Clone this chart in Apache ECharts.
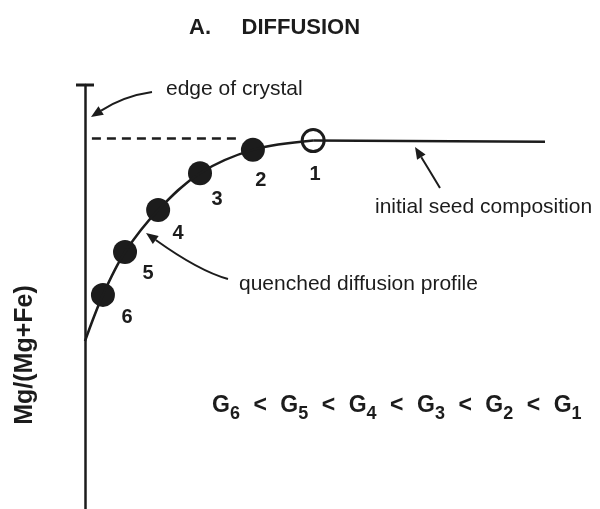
<!DOCTYPE html>
<html>
<head>
<meta charset="utf-8">
<script src="https://cdn.jsdelivr.net/npm/echarts@6/dist/echarts.min.js"></script>
<style>
  html, body { margin: 0; padding: 0; background: #fff; }
  #chart { width: 600px; height: 509px; }
</style>
</head>
<body>
<div id="chart"></div>
<script>
// distance from crystal edge (arbitrary units) and Mg/(Mg+Fe) (relative)
const profileX = [0, 0.39, 0.87, 1.59, 2.50, 3.65, 4.96];
const profileY = [0.396, 0.505, 0.606, 0.705, 0.792, 0.847, 0.869];
const seedX = [4.96, 10];
const seedY = [0.869, 0.866];
const edgeX = [0.15, 3.3];
const edgeY = [0.874, 0.874];
// quenched points 2..6 and the unquenched point 1
const pointIds = ['6', '5', '4', '3', '2'];
const pointX = [0.39, 0.87, 1.59, 2.50, 3.65];
const pointY = [0.505, 0.606, 0.705, 0.792, 0.847];
const openX = [4.96];
const openY = [0.869];
const openIds = ['1'];
const growthOrder = ['6', '5', '4', '3', '2', '1'];

const ink = '#1c1c1c';
const labelOffsets = {'1': [2, 34], '2': [8, 31], '3': [17, 26], '4': [20, 23], '5': [23, 21], '6': [24, 23]};

const zip = (xs, ys) => xs.map((x, i) => [x, ys[i]]);

function arrow(x1, y1, cx, cy, x2, y2) {
    const a = Math.atan2(y2 - cy, x2 - cx);
    const L = 12, W = 5;
    const bx = x2 - L * Math.cos(a), by = y2 - L * Math.sin(a);
    return [
        {
            type: 'bezierCurve',
            shape: {x1: x1, y1: y1, cpx1: cx, cpy1: cy, x2: bx, y2: by},
            style: {stroke: ink, lineWidth: 2, fill: null}
        },
        {
            type: 'polygon',
            shape: {points: [[x2, y2], [bx + W * Math.sin(a), by - W * Math.cos(a)], [bx - W * Math.sin(a), by + W * Math.cos(a)]]},
            style: {fill: ink}
        }
    ];
}

function numLabel(id) {
    return {
        show: true,
        position: 'inside',
        offset: labelOffsets[id],
        formatter: () => id,
        color: ink,
        fontFamily: 'Liberation Sans',
        fontWeight: 'bold',
        fontSize: 20
    };
}

const textStyle = {fill: ink, fontFamily: 'Liberation Sans', fontSize: 21};
const inequality = growthOrder.map(g => 'G{s|' + g + '}').join('{op|<}');

const chart = echarts.init(document.getElementById('chart'));
const option = {
    animation: false,
    backgroundColor: '#fff',
    title: {
        text: 'A.     DIFFUSION',
        left: 184,
        top: 12,
        textStyle: {color: ink, fontFamily: 'Liberation Sans', fontWeight: 'bold', fontSize: 22}
    },
    grid: {left: 85, right: 55, top: 85, bottom: 0, containLabel: false},
    xAxis: {type: 'value', min: 0, max: 10, show: false},
    yAxis: {
        type: 'value',
        min: 0,
        max: 1,
        axisLine: {
            show: true,
            lineStyle: {color: ink, width: 2.5},
            symbol: ['none', 'rect'],
            symbolSize: [18, 3]
        },
        axisTick: {show: false},
        axisLabel: {show: false},
        splitLine: {show: false}
    },
    series: [
        {
            type: 'line',
            data: zip(edgeX, edgeY),
            symbol: 'none',
            lineStyle: {color: ink, width: 2.5, type: [9, 6]}
        },
        {
            type: 'line',
            data: zip(seedX, seedY),
            symbol: 'none',
            lineStyle: {color: ink, width: 2.5}
        },
        {
            type: 'line',
            data: zip(profileX, profileY),
            smooth: 0.35,
            symbol: 'none',
            lineStyle: {color: ink, width: 2.5}
        },
        {
            type: 'scatter',
            data: zip(pointX, pointY).map((p, i) => ({value: p, label: numLabel(pointIds[i])})),
            symbolSize: 24,
            itemStyle: {color: ink, opacity: 1}
        },
        {
            type: 'scatter',
            data: zip(openX, openY).map((p, i) => ({value: p, label: numLabel(openIds[i])})),
            symbolSize: 22,
            itemStyle: {color: '#fff', borderColor: ink, borderWidth: 3, opacity: 1}
        }
    ],
    graphic: [
        {
            type: 'text',
            x: 25, y: 355,
            rotation: Math.PI / 2,
            style: {text: 'Mg/(Mg+Fe)', fill: ink, fontFamily: 'Liberation Sans', fontWeight: 'bold', fontSize: 25, align: 'center', verticalAlign: 'middle'}
        },
        {type: 'text', x: 166, y: 89, style: Object.assign({text: 'edge of crystal', verticalAlign: 'middle'}, textStyle)},
        {type: 'text', x: 239, y: 284, style: Object.assign({text: 'quenched diffusion profile', verticalAlign: 'middle'}, textStyle)},
        {type: 'text', x: 375, y: 207, style: Object.assign({text: 'initial seed composition', verticalAlign: 'middle'}, textStyle)},
        {
            type: 'text',
            x: 212, y: 406,
            style: {
                text: inequality,
                fill: ink,
                fontFamily: 'Liberation Sans',
                fontWeight: 'bold',
                fontSize: 23,
                verticalAlign: 'middle',
                rich: {
                    s: {fontFamily: 'Liberation Sans', fontWeight: 'bold', fontSize: 18, fill: ink, verticalAlign: 'bottom', padding: [16, 0, 0, 0]},
                    op: {fontFamily: 'Liberation Sans', fontWeight: 'bold', fontSize: 23, fill: ink, padding: [0, 13.5, 0, 13.5]}
                }
            }
        }
    ].concat(
        arrow(152, 92, 124, 96, 91, 117),
        arrow(228, 279, 199, 271, 146, 233),
        arrow(440, 188, 428, 168, 415, 147)
    )
};
chart.setOption(option);
</script>
</body>
</html>
